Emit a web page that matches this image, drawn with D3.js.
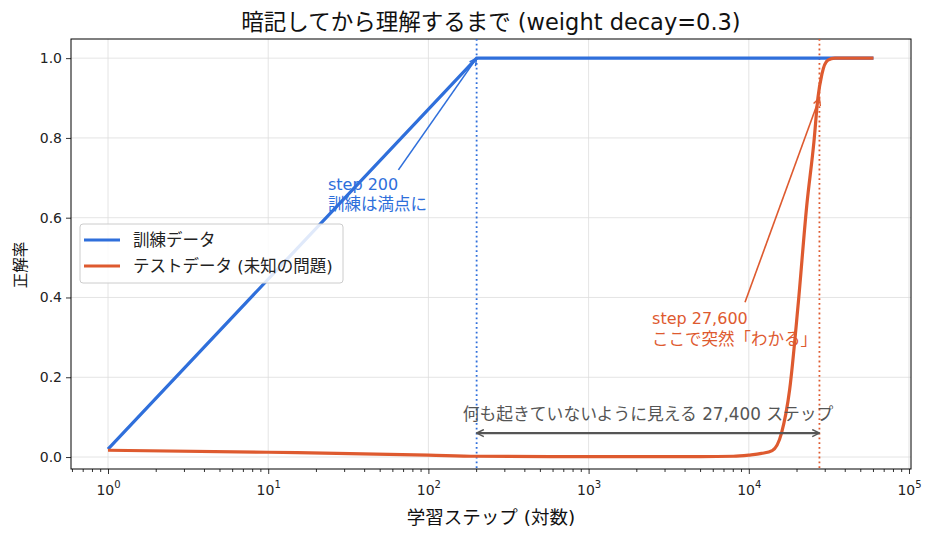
<!DOCTYPE html>
<html lang="ja">
<head>
    <meta charset="UTF-8">
    <title>暗記してから理解するまで</title>
    <script src="https://d3js.org/d3.v7.min.js"></script>
    <style>
        body { margin: 0; background: #fff; }
        text { font-family: "DejaVu Sans", "Noto Sans CJK JP", sans-serif; }
        .tick text { font-size: 14px; fill: #222; }
    </style>
</head>
<body>
<div id="chart"></div>
<script>

    // data
    var trainSteps = [1, 200, 60000];
    var trainAcc = [0.02, 1.0, 1.0];

    var testSteps = [1, 10, 100, 200, 1000, 5000, 8000, 10000, 12000, 14000, 16000, 18000, 20300, 23000, 25500, 27000, 28600, 31200, 34500, 60000];
    var testAcc = [0.017, 0.012, 0.005, 0.002, 0.001, 0.001, 0.002, 0.005, 0.009, 0.016, 0.06, 0.17, 0.38, 0.63, 0.79, 0.9, 0.96, 0.995, 1.0, 1.0];

    var seriesNames = ["訓練データ", "テストデータ (未知の問題)"];
    var memorizeStep = 200, grokStep = 27600;
    var yTicks = [0, 0.2, 0.4, 0.6, 0.8, 1.0];
    var xTicks = [1, 10, 100, 1000, 10000, 100000];

    var blue = "#2f6fdb", orange = "#de5a2f", gray = "#555";

    var W = 932, H = 535;
    var margin = {top: 39, right: 21, bottom: 66, left: 71};
    var width = W - margin.left - margin.right,
        height = H - margin.top - margin.bottom;

    var svg = d3.select("#chart").append("svg")
        .attr("width", W).attr("height", H);

    var g = svg.append("g")
        .attr("transform", "translate(" + margin.left + "," + margin.top + ")");

    var x = d3.scaleLog()
        .domain([Math.pow(10, -0.231), Math.pow(10, 5.0125)])
        .range([0, width]);
    var y = d3.scaleLinear()
        .domain([-0.03, 1.048])
        .range([height, 0]);

    // grid
    g.append("g").selectAll("line").data(xTicks).enter().append("line")
        .attr("x1", function (d) { return x(d); }).attr("x2", function (d) { return x(d); })
        .attr("y1", 0).attr("y2", height)
        .attr("stroke", "#ddd").attr("stroke-width", 0.8);
    g.append("g").selectAll("line").data(yTicks).enter().append("line")
        .attr("x1", 0).attr("x2", width)
        .attr("y1", function (d) { return y(d); }).attr("y2", function (d) { return y(d); })
        .attr("stroke", "#ddd").attr("stroke-width", 0.8);

    // minor log ticks
    var minor = [];
    for (var e = -1; e <= 5; e++) {
        for (var m = 2; m <= 9; m++) {
            var v = m * Math.pow(10, e);
            if (v >= x.domain()[0] && v <= x.domain()[1]) minor.push(v);
        }
    }
    g.append("g").selectAll("line").data(minor).enter().append("line")
        .attr("x1", function (d) { return x(d); }).attr("x2", function (d) { return x(d); })
        .attr("y1", height).attr("y2", height + 3)
        .attr("stroke", "#000").attr("stroke-width", 0.8);

    // axes
    var xAxis = g.append("g")
        .attr("transform", "translate(0," + height + ")")
        .call(d3.axisBottom(x).tickValues(xTicks).tickSize(5).tickFormat(""));
    xAxis.selectAll(".tick").append("text")
        .attr("y", 26).attr("fill", "#222").attr("text-anchor", "middle")
        .style("font-size", "14px")
        .each(function (d) {
            var t = d3.select(this);
            t.append("tspan").text("10");
            t.append("tspan").attr("dy", -7).style("font-size", "10px")
                .text(Math.round(Math.log10(d)));
        });

    var yAxis = g.append("g")
        .call(d3.axisLeft(y).tickValues(yTicks).tickSize(5).tickPadding(4).tickFormat(d3.format(".1f")));

    [xAxis, yAxis].forEach(function (a) {
        a.select(".domain").remove();
        a.selectAll(".tick line").attr("stroke", "#000").attr("stroke-width", 0.8);
    });

    // frame
    g.append("rect")
        .attr("width", width).attr("height", height)
        .attr("fill", "none").attr("stroke", "#000").attr("stroke-width", 1);

    // vertical markers
    g.append("line")
        .attr("x1", x(memorizeStep)).attr("x2", x(memorizeStep))
        .attr("y1", 0).attr("y2", height)
        .attr("stroke", blue).attr("stroke-width", 1.8).attr("stroke-dasharray", "1.8,3");
    g.append("line")
        .attr("x1", x(grokStep)).attr("x2", x(grokStep))
        .attr("y1", 0).attr("y2", height)
        .attr("stroke", orange).attr("stroke-width", 1.8).attr("stroke-dasharray", "1.8,3");

    // lines
    var line = d3.line()
        .x(function (d) { return x(d[0]); })
        .y(function (d) { return y(d[1]); });

    g.append("path")
        .datum(d3.zip(trainSteps, trainAcc))
        .attr("fill", "none").attr("stroke", blue).attr("stroke-width", 3.2)
        .attr("d", line.curve(d3.curveLinear));
    g.append("path")
        .datum(d3.zip(testSteps, testAcc))
        .attr("fill", "none").attr("stroke", orange).attr("stroke-width", 3.2)
        .attr("stroke-linejoin", "round")
        .attr("d", line.curve(d3.curveMonotoneX));

    // arrow heads
    var defs = svg.append("defs");
    function marker(id, color) {
        defs.append("marker")
            .attr("id", id).attr("viewBox", "0 0 10 10")
            .attr("refX", 9).attr("refY", 5)
            .attr("markerWidth", 9).attr("markerHeight", 9)
            .attr("markerUnits", "userSpaceOnUse")
            .attr("orient", "auto-start-reverse")
            .append("path").attr("d", "M1,1 L9,5 L1,9")
            .attr("fill", "none").attr("stroke", color).attr("stroke-width", 1.6);
    }
    marker("arBlue", blue);
    marker("arOrange", orange);
    marker("arGray", gray);

    // annotation: step 200
    g.append("line")
        .attr("x1", x(65)).attr("y1", y(0.72))
        .attr("x2", x(memorizeStep)).attr("y2", y(1.0))
        .attr("stroke", blue).attr("stroke-width", 1.6)
        .attr("marker-end", "url(#arBlue)");
    var t1 = g.append("text").attr("x", x(23.6)).attr("y", y(0.67)).attr("fill", blue)
        .style("font-size", "16px");
    t1.append("tspan").text("step 200");
    t1.append("tspan").attr("x", x(23.6)).attr("dy", 20).style("font-size", "16.5px").text("訓練は満点に");

    // annotation: step 27,600
    g.append("line")
        .attr("x1", x(9470)).attr("y1", y(0.388))
        .attr("x2", x(grokStep)).attr("y2", y(0.9))
        .attr("stroke", orange).attr("stroke-width", 1.6)
        .attr("marker-end", "url(#arOrange)");
    var t2 = g.append("text").attr("x", x(2490)).attr("y", y(0.333)).attr("fill", orange)
        .style("font-size", "16px");
    t2.append("tspan").text("step 27,600");
    t2.append("tspan").attr("x", x(2490)).attr("dy", 21).style("font-size", "16.5px").text("ここで突然「わかる」");

    // double arrow across the plateau
    g.append("line")
        .attr("x1", x(memorizeStep)).attr("y1", y(0.06))
        .attr("x2", x(grokStep)).attr("y2", y(0.06))
        .attr("stroke", gray).attr("stroke-width", 2.2)
        .attr("marker-start", "url(#arGray)").attr("marker-end", "url(#arGray)");
    g.append("text")
        .attr("x", x(Math.sqrt(memorizeStep * grokStep))).attr("y", y(0.092))
        .attr("text-anchor", "middle").attr("fill", gray)
        .style("font-size", "16.8px")
        .text("何も起きていないように見える 27,400 ステップ");

    // legend
    var lg = g.append("g").attr("transform", "translate(9,185)");
    lg.append("rect")
        .attr("width", 263).attr("height", 59).attr("rx", 3)
        .attr("fill", "#fff").attr("fill-opacity", 0.85)
        .attr("stroke", "#ccc").attr("stroke-width", 1);
    [blue, orange].forEach(function (c, i) {
        lg.append("line")
            .attr("x1", 4).attr("x2", 40)
            .attr("y1", 16 + i * 26).attr("y2", 16 + i * 26)
            .attr("stroke", c).attr("stroke-width", 3.2);
        lg.append("text")
            .attr("x", 53).attr("y", 16 + i * 26).attr("dy", "0.36em")
            .attr("fill", "#222").style("font-size", "16.5px")
            .text(seriesNames[i]);
    });

    // titles
    svg.append("text")
        .attr("x", margin.left + width / 2).attr("y", 30)
        .attr("text-anchor", "middle").attr("fill", "#111")
        .style("font-size", "22.5px")
        .text("暗記してから理解するまで (weight decay=0.3)");
    svg.append("text")
        .attr("x", margin.left + width / 2).attr("y", 524)
        .attr("text-anchor", "middle").attr("fill", "#111")
        .style("font-size", "18.5px")
        .text("学習ステップ (対数)");
    svg.append("text")
        .attr("transform", "translate(26," + (margin.top + height / 2 + 11) + ") rotate(-90)")
        .attr("text-anchor", "middle").attr("fill", "#111")
        .style("font-size", "15.5px")
        .text("正解率");

</script>
</body>
</html>
